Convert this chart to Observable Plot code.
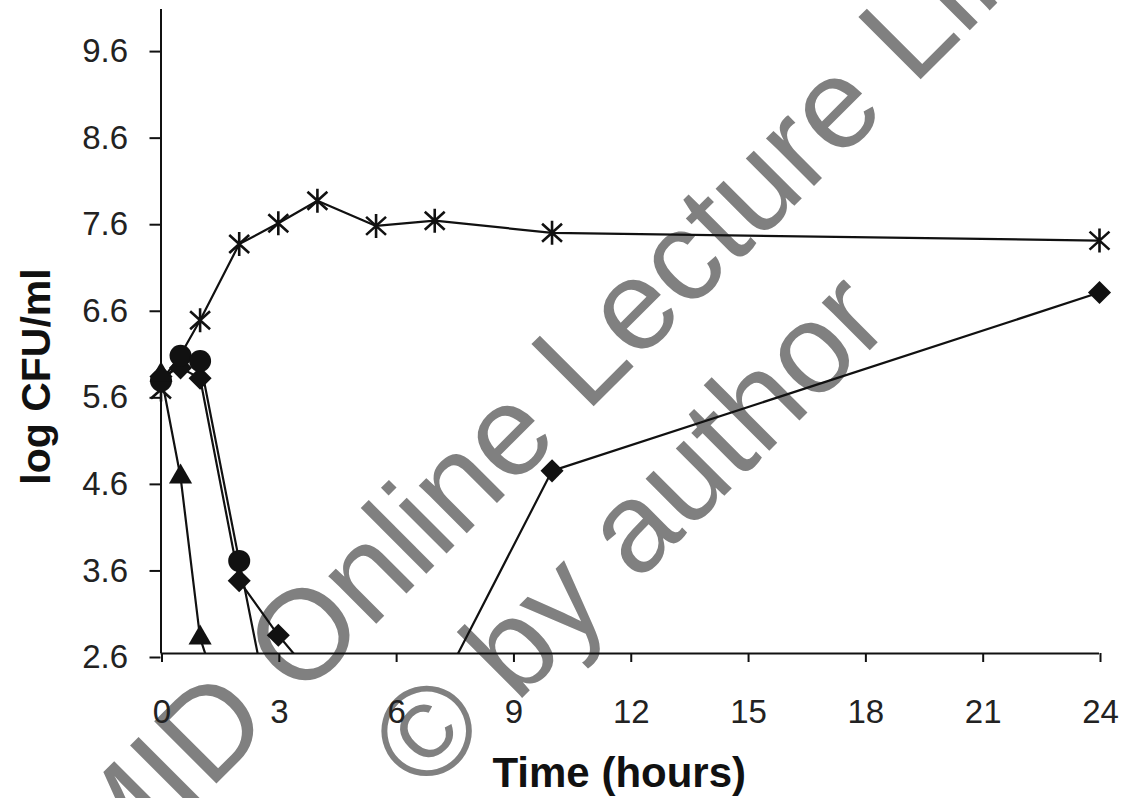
<!DOCTYPE html>
<html><head><meta charset="utf-8">
<script src="https://cdn.jsdelivr.net/npm/d3@7"></script>
<script src="https://cdn.jsdelivr.net/npm/@observablehq/plot@0.6"></script>
<style>
html,body{margin:0;padding:0;background:#fff;}
#chart svg{display:block;}
</style></head><body><div id="chart"></div>
<script>
// ---- data ----
const xTicks = [0, 3, 6, 9, 12, 15, 18, 21, 24];
const yTicks = [2.6, 3.6, 4.6, 5.6, 6.6, 7.6, 8.6, 9.6];

const asteriskHours = [0, 1, 2, 3, 4, 5.5, 7, 10, 24];
const asteriskLog   = [5.65, 6.45, 7.33, 7.57, 7.83, 7.54, 7.6, 7.46, 7.37];

const circleHours = [0, 0.5, 1, 2, 3];
const circleLog   = [5.75, 6.04, 5.98, 3.67, 1.4];

const diamondHours = [0, 0.5, 1, 2, 3, 6, 10, 24];
const diamondLog   = [5.8, 5.9, 5.78, 3.44, 2.81, 1.2, 4.71, 6.77];

const triangleHours = [0, 0.5, 1, 2];
const triangleLog   = [5.82, 4.64, 2.78, 1.4];

const xLabel = "Time (hours)";
const yLabel = "log CFU/ml";
const watermarkLines = ["MID Online Lecture Library", "© by author"];

// ---- build tables ----
const toRows = (hs, vs) => hs.map((h, i) => ({hours: h, log: vs[i]}));
const asteriskData = toRows(asteriskHours, asteriskLog);
const circleData = toRows(circleHours, circleLog);
const diamondData = toRows(diamondHours, diamondLog);
const triangleData = toRows(triangleHours, triangleLog);
const yMin = 2.6, yMax = 10.04;
const visible = d => d.log >= yMin;

const asteriskSymbol = {
  draw(ctx, size) {
    const r = Math.sqrt(size / Math.PI);
    const a = r * 0.83, b = r * 0.75;
    ctx.moveTo(0, -r); ctx.lineTo(0, r);
    ctx.moveTo(-a, -b); ctx.lineTo(a, b);
    ctx.moveTo(-a, b); ctx.lineTo(a, -b);
  }
};

const font = "'Liberation Sans', Arial, Helvetica, sans-serif";
const mL = 160.5, mT = 9;
const lineStyle = {x: "hours", y: "log", stroke: "#111", strokeWidth: 2.2, clip: true};

const chart = Plot.plot({
  width: 1124,
  height: 798,
  marginLeft: mL,
  marginRight: 25,
  marginTop: mT,
  marginBottom: 145,
  style: {fontFamily: font, background: "#fff", color: "#111"},
  x: {domain: [0, 24]},
  y: {domain: [yMin, yMax]},
  marks: [
    // watermark (beneath everything)
    Plot.text([watermarkLines[0]], {frameAnchor: "top-left", dx: 108 - mL, dy: 891 - mT, rotate: -45,
      textAnchor: "start", lineAnchor: "bottom", fontSize: 128, fill: "#808080", fontFamily: font}),
    Plot.text([watermarkLines[1]], {frameAnchor: "top-left", dx: 424 - mL, dy: 795 - mT, rotate: -45,
      textAnchor: "start", lineAnchor: "bottom", fontSize: 128, fill: "#808080", fontFamily: font}),
    // axes
    Plot.axisX({ticks: xTicks, tickSize: 9, tickPadding: 37, fontSize: 33, label: null,
      tickFormat: d => String(d), stroke: "#111", strokeWidth: 2, fill: "#222", dx: 1}),
    Plot.axisY({ticks: yTicks, tickSize: 11, tickPadding: 22, fontSize: 33, label: null,
      tickFormat: d3.format(".1f"), stroke: "#111", strokeWidth: 2, fill: "#222", dy: 4}),
    Plot.ruleX([0], {stroke: "#111", strokeWidth: 2}),
    Plot.ruleY([yMin], {stroke: "#111", strokeWidth: 2}),
    // axis titles
    Plot.text([yLabel], {frameAnchor: "left", dx: 36 - mL, dy: 45, rotate: -90,
      textAnchor: "middle", lineAnchor: "middle",
      fontSize: 41, fontWeight: "bold", fill: "#111", fontFamily: font}),
    Plot.text([xLabel], {frameAnchor: "bottom", dx: -11, dy: 120,
      textAnchor: "middle", lineAnchor: "middle",
      fontSize: 42, fontWeight: "bold", fill: "#111", fontFamily: font}),
    // series lines
    Plot.line(asteriskData, lineStyle),
    Plot.line(triangleData, lineStyle),
    Plot.line(diamondData, lineStyle),
    Plot.line(circleData, lineStyle),
    // markers
    Plot.dot(asteriskData.filter(visible), {x: "hours", y: "log", symbol: asteriskSymbol, r: 12,
      fill: "none", stroke: "#111", strokeWidth: 2.6}),
    Plot.dot(diamondData.filter(visible), {x: "hours", y: "log", symbol: "diamond2", r: 10.4, fill: "#111", stroke: "none"}),
    Plot.dot(circleData.filter(visible), {x: "hours", y: "log", symbol: "circle", r: 11, fill: "#111", stroke: "none"}),
    Plot.dot(triangleData.filter(visible), {x: "hours", y: "log", symbol: "triangle", r: 8.6, fill: "#111", stroke: "none"})
  ]
});
document.getElementById("chart").appendChild(chart);
</script>
</body></html>
